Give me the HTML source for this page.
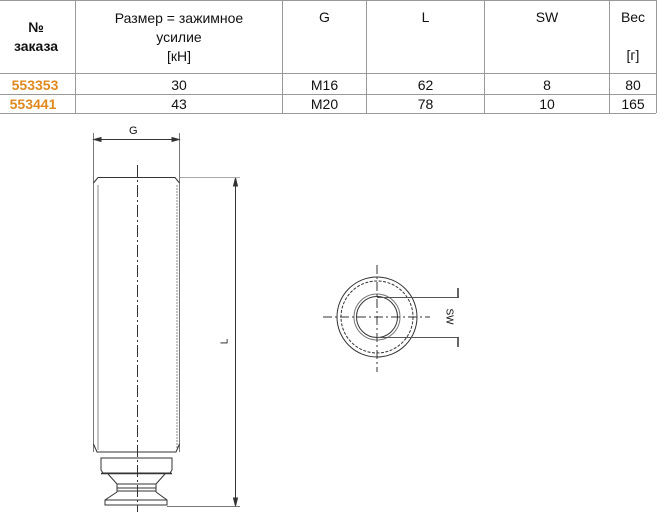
<!DOCTYPE html>
<html><head><meta charset="utf-8"><style>
body{margin:0;width:671px;height:514px;background:#fff;font-family:"Liberation Sans",Arial,sans-serif;position:relative;overflow:hidden}
.t{position:absolute;font-size:14px;color:#111;white-space:nowrap;text-align:center}
.o{color:#e08a1e;font-weight:bold}
.b{font-weight:bold}
</style></head><body>
<svg width="671" height="514" style="position:absolute;left:0;top:0">
<g stroke="#999" stroke-width="1" fill="none">
<line x1="0" y1="0.5" x2="656" y2="0.5"/>
<line x1="0" y1="73.5" x2="656" y2="73.5"/>
<line x1="0" y1="94.5" x2="656" y2="94.5"/>
<line x1="0" y1="113.5" x2="656" y2="113.5"/>
<line x1="75.5" y1="0" x2="75.5" y2="113"/>
<line x1="282.5" y1="0" x2="282.5" y2="113"/>
<line x1="366.5" y1="0" x2="366.5" y2="113"/>
<line x1="484.5" y1="0" x2="484.5" y2="113"/>
<line x1="609.5" y1="0" x2="609.5" y2="113"/>
<line x1="656.5" y1="0" x2="656.5" y2="113"/>
</g>
<g stroke="#333" stroke-width="1" fill="none">
<line x1="93.5" y1="133" x2="93.5" y2="452" stroke="#777"/>
<line x1="179.5" y1="133" x2="179.5" y2="452" stroke="#777"/>
<line x1="94" y1="139.5" x2="179" y2="139.5"/>
<path d="M94 139.5 l7 -2 v4z M179 139.5 l-7 -2 v4z" fill="#333"/>
<path d="M93.5 183 L98 177.5 H175 L179.5 183"/>
<line x1="98" y1="185" x2="98" y2="450" stroke="#888"/>
<line x1="177" y1="185" x2="177" y2="450" stroke="#888" stroke-dasharray="2 1"/>
<path d="M93.5 444 L97 452 H176 L179.5 444"/>
<line x1="137.5" y1="165" x2="137.5" y2="512" stroke-dasharray="12 3 2 3"/>
<path d="M101 458 H172 V470 L170 473 H103 L101 470 Z"/>
<line x1="101" y1="473.5" x2="172" y2="473.5" stroke-width="1.5"/>
<path d="M108 474 L117 484 H156 L165 474"/>
<path d="M117 484 V492 M156 484 V492 M117 488 H156 M117 491 H156"/>
<path d="M117 492 L105 500 V505 H167 V500 L156 492"/>
<line x1="105" y1="500" x2="167" y2="500"/>
<line x1="180" y1="177.5" x2="240" y2="177.5" stroke="#aaa"/>
<line x1="167" y1="506.5" x2="240" y2="506.5" stroke="#777"/>
<line x1="235.5" y1="178" x2="235.5" y2="506"/>
<path d="M235.5 178 l-2 8 h4z M235.5 506 l-2 -8 h4z" fill="#333"/>
<circle cx="377" cy="317" r="40"/>
<circle cx="377" cy="317" r="36" stroke-dasharray="3 1.5"/>
<circle cx="377" cy="317" r="23" stroke="#777"/>
<circle cx="377" cy="317" r="20.5"/>
<line x1="377" y1="265" x2="377" y2="372" stroke-dasharray="9 3 2 3"/>
<line x1="323" y1="317" x2="430" y2="317" stroke-dasharray="9 3 2 3"/>
<line x1="377" y1="297.5" x2="459" y2="297.5" stroke="#555"/>
<line x1="377" y1="337.5" x2="459" y2="337.5" stroke="#555"/>
<line x1="458" y1="288" x2="458" y2="297" stroke-width="1.5"/>
<line x1="458" y1="338" x2="458" y2="347" stroke-width="1.5"/>
</g>
</svg>
<div class="t b" style="left:0;width:72px;top:18px;line-height:19px">№<br>заказа</div>
<div class="t" style="left:76px;width:206px;top:9px;line-height:19px">Размер = зажимное<br>усилие<br>[кН]</div>
<div class="t" style="left:283px;width:83px;top:9px">G</div>
<div class="t" style="left:367px;width:117px;top:9px">L</div>
<div class="t" style="left:485px;width:124px;top:9px">SW</div>
<div class="t" style="left:610px;width:46px;top:9px">Вес</div>
<div class="t" style="left:610px;width:46px;top:47px">[г]</div>
<div class="t o" style="left:0;width:70px;top:77px">553353</div>
<div class="t" style="left:76px;width:206px;top:77px">30</div>
<div class="t" style="left:283px;width:83px;top:77px">M16</div>
<div class="t" style="left:367px;width:117px;top:77px">62</div>
<div class="t" style="left:485px;width:124px;top:77px">8</div>
<div class="t" style="left:610px;width:46px;top:77px">80</div>
<div class="t o" style="left:0;width:66px;top:96px">553441</div>
<div class="t" style="left:76px;width:206px;top:96px">43</div>
<div class="t" style="left:283px;width:83px;top:96px">M20</div>
<div class="t" style="left:367px;width:117px;top:96px">78</div>
<div class="t" style="left:485px;width:124px;top:96px">10</div>
<div class="t" style="left:610px;width:46px;top:96px">165</div>
<div class="t" style="left:129px;top:125px;font-size:11px">G</div>
<div class="t" style="left:222px;top:336px;font-size:10px;transform:rotate(-90deg)">L</div>
<div class="t" style="left:441px;top:311px;font-size:10px;transform:rotate(90deg)">SW</div>
</body></html>
